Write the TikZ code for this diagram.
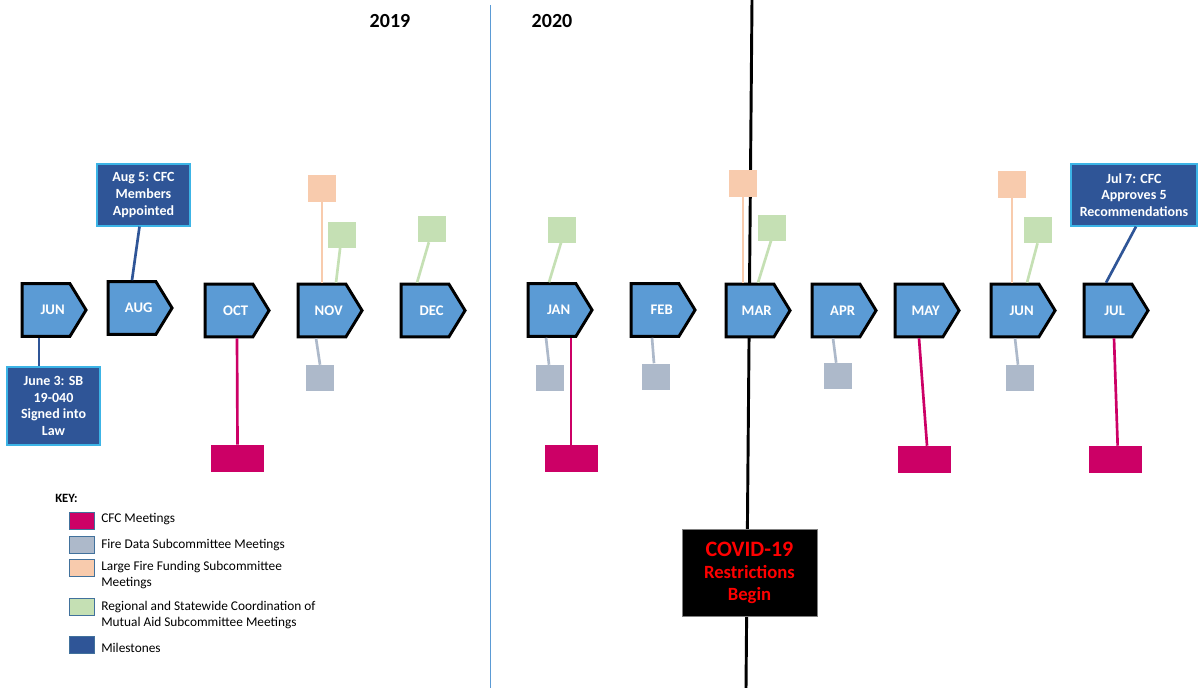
\documentclass[tikz,border=0pt]{standalone}
\usepackage{fontspec}
\setmainfont{Carlito}
\usetikzlibrary{shapes.symbols}
\definecolor{monthblue}{HTML}{5B9BD5}
\definecolor{cfcpink}{HTML}{CC0066}
\definecolor{fdgrey}{HTML}{ADB9CA}
\definecolor{lfpeach}{HTML}{F8CBAD}
\definecolor{rcgreen}{HTML}{C5E0B4}
\definecolor{msblue}{HTML}{2F5597}
\definecolor{msedge}{HTML}{3CB4E6}
\definecolor{keyedge}{HTML}{41719C}
\definecolor{yearline}{HTML}{5B9BD5}
\tikzset{
  month/.style={signal, signal to=east, signal pointer angle=117, draw=black, line width=2.2pt,
    fill=monthblue, minimum width=48pt, minimum height=39.5pt, inner sep=0pt, text=white,
    font=\fontsize{11}{13}\selectfont\bfseries, execute at begin node={\hspace*{10pt}}},
  cfcbox/.style={fill=cfcpink, minimum width=39.75pt, minimum height=20.25pt, inner sep=0pt},
  fdbox/.style={fill=fdgrey, minimum width=21pt, minimum height=19.5pt, inner sep=0pt},
  lfbox/.style={fill=lfpeach, minimum width=21pt, minimum height=20pt, inner sep=0pt},
  rcbox/.style={fill=rcgreen, minimum width=21pt, minimum height=19.5pt, inner sep=0pt},
  milestone/.style={fill=msblue, draw=msedge, line width=0.9pt, text=white, align=center,
    inner sep=0pt, font=\fontsize{10.5}{12.5}\selectfont\bfseries},
  cfcline/.style={cfcpink, line width=2pt},
  fdline/.style={fdgrey, line width=2pt},
  lfline/.style={lfpeach, line width=2pt},
  rcline/.style={rcgreen, line width=2pt},
  msline/.style={msblue, line width=2pt},
  keybox/.style={draw=keyedge, line width=0.6pt, minimum width=18.75pt, minimum height=12.75pt, inner sep=0pt},
  keytext/.style={anchor=west, align=left, inner sep=0pt, font=\fontsize{10}{12}\selectfont},
  year/.style={font=\fontsize{15}{18}\selectfont\bfseries}
}
\begin{document}
\begin{tikzpicture}[x=0.75pt, y=-0.75pt]
\useasboundingbox (0,0) rectangle (1198,688);
\fill[white] (0,0) rectangle (1198,688);

\draw[yearline, line width=0.5pt] (490,5) -- (490,688);
\draw[black, line width=2.2pt] (752,0) -- (746,688);

\node[year] (y2019) at (390,21) {2019};
\node[year] (y2020) at (552,21) {2020};

\node[month] (jun19) at (46,310) {JUN};
\node[month] (aug) at (132,308) {AUG};
\node[month] (oct) at (229,310.5) {OCT};
\node[month] (nov) at (322,310.5) {NOV};
\node[month] (dec) at (425,310.5) {DEC};
\node[month] (jan) at (552,310) {JAN};
\node[month] (feb) at (655,310) {FEB};
\node[month] (mar) at (750,310.5) {MAR};
\node[month] (apr) at (836,310.5) {APR};
\node[month] (may) at (919,310.5) {MAY};
\node[month] (jun20) at (1015,310.5) {JUN};
\node[month] (jul) at (1108,310.5) {JUL};

\node[milestone, minimum width=69.75pt, minimum height=58.5pt] (msjun) at (53.5,406) {June 3: SB\\19-040\\Signed into\\Law};
\node[milestone, minimum width=69.75pt, minimum height=46.5pt] (msaug) at (143.5,195) {Aug 5: CFC\\Members\\Appointed};
\node[milestone, minimum width=94.5pt, minimum height=46.5pt] (msjul) at (1134,195) {Jul 7: CFC\\Approves 5\\Recommendations};

\node[cfcbox] (cfcoct) at (237.5,458.5) {};
\node[cfcbox] (cfcjan) at (571,458.5) {};
\node[cfcbox] (cfcmay) at (924.5,459.5) {};
\node[cfcbox] (cfcjul) at (1115,459.5) {};

\node[fdbox] (fdnov) at (320,378) {};
\node[fdbox] (fdjan) at (550,378) {};
\node[fdbox] (fdfeb) at (656,376.5) {};
\node[fdbox] (fdapr) at (837.5,376) {};
\node[fdbox] (fdjun) at (1020,378) {};

\node[lfbox] (lfnov) at (322,188.5) {};
\node[lfbox] (lfmar) at (743,183.5) {};
\node[lfbox] (lfjun) at (1012,184.5) {};

\node[rcbox] (rcnov) at (341.5,234.5) {};
\node[rcbox] (rcdec) at (431.5,229) {};
\node[rcbox] (rcjan) at (562,229.5) {};
\node[rcbox] (rcmar) at (772,227.5) {};
\node[rcbox] (rcjun) at (1037.5,230) {};

\draw[msline] ([xshift=-5.25pt]jun19.south) -- ([xshift=-5.25pt]jun19.south |- msjun.north);
\draw[msline] ([xshift=-3pt]msaug.south) -- (aug.north);
\draw[msline] ([xshift=1.5pt]msjul.south) -- ([xshift=-1.5pt]jul.north);

\draw[cfcline] ([xshift=6pt]oct.south) -- (cfcoct.north);
\draw[cfcline] (cfcjan.north |- jan.south) -- (cfcjan.north);
\draw[cfcline] (may.south) -- ([xshift=1.9pt]cfcmay.north);
\draw[cfcline] ([xshift=4.5pt]jul.south) -- ([xshift=2pt]cfcjul.north);

\draw[fdline] ([xshift=-4.5pt]nov.south) -- (fdnov.north);
\draw[fdline] ([xshift=-4.5pt]jan.south) -- ([xshift=-0.75pt]fdjan.north);
\draw[fdline] ([xshift=-2.25pt]feb.south) -- ([xshift=-1.5pt]fdfeb.north);
\draw[fdline] ([xshift=-2.25pt]apr.south) -- ([xshift=-1pt]fdapr.north);
\draw[fdline] (jun20.south) -- ([xshift=-1.5pt]fdjun.north);

\draw[lfline] (lfnov.south) -- (lfnov.south |- nov.north);
\draw[lfline] (lfmar.south) -- (lfmar.south |- mar.north);
\draw[lfline] (lfjun.south) -- (lfjun.south |- jun20.north);

\draw[rcline] ([xshift=-1pt]rcnov.south) -- ([xshift=10.5pt]nov.north);
\draw[rcline] ([xshift=-2pt]rcdec.south) -- ([xshift=-6pt]dec.north);
\draw[rcline] ([xshift=-0.75pt]rcjan.south) -- ([xshift=-2.25pt]jan.north);
\draw[rcline] ([xshift=-0.75pt]rcmar.south) -- ([xshift=6pt]mar.north);
\draw[rcline] (rcjun.south) -- ([xshift=9pt]jun20.north);

\node[fill=black, draw=gray, line width=0.6pt, minimum width=101.25pt, minimum height=65.25pt, inner sep=0pt,
  text=red, align=center, font=\fontsize{14}{16}\selectfont\bfseries] (covid) at (749.5,572.5)
  {{\fontsize{16.5}{18}\selectfont COVID-19}\\[1pt]Restrictions\\Begin};

\node[anchor=west, inner sep=0pt, font=\fontsize{9.5}{11}\selectfont\bfseries] (keytitle) at (55,498) {KEY:};
\node[keybox, fill=cfcpink] (kcfc) at (81.5,520.5) {};
\node[keybox, fill=fdgrey] (kfd) at (81.5,544.5) {};
\node[keybox, fill=lfpeach] (klf) at (81.5,567.5) {};
\node[keybox, fill=rcgreen] (krc) at (81.5,606.5) {};
\node[keybox, fill=msblue] (kms) at (81.5,645) {};
\node[keytext] (tcfc) at (101,519) {CFC Meetings};
\node[keytext] (tfd) at (101,545) {Fire Data Subcommittee Meetings};
\node[keytext] (tlf) at (101,575) {Large Fire Funding Subcommittee\\Meetings};
\node[keytext] (trc) at (101,615.5) {Regional and Statewide Coordination of\\Mutual Aid Subcommittee Meetings};
\node[keytext] (tms) at (101,648) {Milestones};
\end{tikzpicture}
\end{document}
